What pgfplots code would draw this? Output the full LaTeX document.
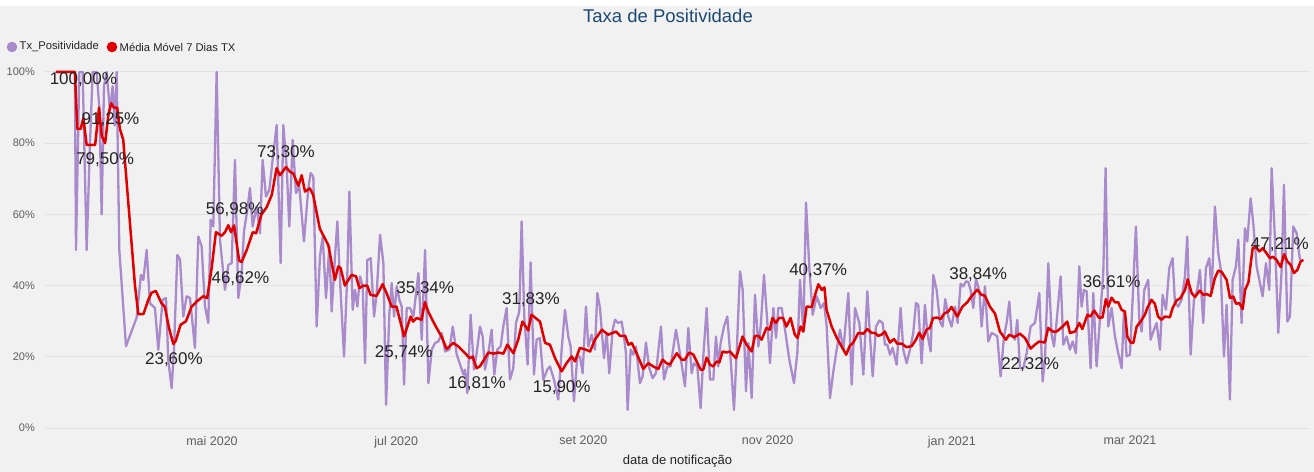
\documentclass[border=0pt]{standalone}
\usepackage{fontspec}
\setmainfont{Liberation Sans}
\usepackage{pgfplots}
\pgfplotsset{compat=1.18}
\definecolor{bgc}{HTML}{F1F1F1}
\definecolor{gridc}{HTML}{E3E3E3}
\definecolor{purp}{HTML}{A98BCB}
\definecolor{mvred}{HTML}{E00000}
\definecolor{titlec}{HTML}{1D4A72}
\definecolor{tickc}{HTML}{605E5C}
\definecolor{labc}{HTML}{252423}

\begin{document}
\begin{tikzpicture}
\fill[bgc] (0bp,0bp) rectangle (1314bp,466bp);
\fill[white] (0bp,466bp) rectangle (1314bp,472bp);
\useasboundingbox (0bp,0bp) rectangle (1314bp,472bp);
\node[text=titlec, font=\fontsize{18.5bp}{22bp}\selectfont] at (668bp,456bp) {Taxa de Positividade};
% legend
\fill[purp] (12bp,425bp) circle (5.3bp);
\node[anchor=west, inner sep=0pt, text=labc, font=\fontsize{11.2bp}{13bp}\selectfont] at (19.5bp,425bp) {Tx\_Positividade};
\fill[mvred] (112bp,425bp) circle (5.3bp);
\node[anchor=west, inner sep=0pt, text=labc, font=\fontsize{11.2bp}{13bp}\selectfont] at (119.5bp,425bp) {Média Móvel 7 Dias TX};

\begin{axis}[
    at={(45bp,44bp)}, anchor=south west,
    scale only axis,
    width=1265bp, height=356bp,
    xmin=65.7, xmax=484.6,
    ymin=0, ymax=100,
    axis line style={draw=none},
    major tick length=0pt,
    xtick={121,182,244,305,366,425},
    xticklabels={mai 2020, jul 2020, set 2020, nov 2020, jan 2021, mar 2021},
    ytick={0,20,40,60,80,100},
    yticklabels={0\%,20\%,40\%,60\%,80\%,100\%},
    ymajorgrids,
    grid style={gridc, line width=1bp},
    yticklabel style={anchor=east, inner sep=0pt, xshift=-10bp, text=tickc, font=\fontsize{11bp}{13bp}\selectfont},
    xticklabel style={anchor=north, inner sep=0pt, yshift=-8bp, text=tickc, font=\fontsize{12.5bp}{14bp}\selectfont},
    xlabel={data de notificação},
    xlabel style={at={(axis description cs:0.5,0)}, anchor=center, yshift=-33bp, text=labc, font=\fontsize{13bp}{15bp}\selectfont},
    clip=false,
]
% Tx_Positividade (daily rate, %)
\addplot[purp, line width=2.3bp, line join=round] coordinates {
(69.3,100) (75.6,100) (75.96,50) (77.06,100) (78.17,100) (79.49,50) (80.6,80) (81.48,100)
(82.8,100) (83.69,90) (84.46,60) (85.23,96) (86.12,100) (87.22,89) (88.1,96) (88.76,85)
(89.43,100) (90.31,50) (92.52,23) (96.05,31) (97.48,43) (98.26,41.6) (99.36,50) (100.46,35)
(102.12,33.7) (103.22,22) (104.66,36) (105.76,36.5) (106.53,19) (107.64,11.2) (108.41,22) (109.51,48.6)
(110.4,47.4) (111.5,31.3) (112.6,37) (113.71,36.5) (115.36,22.5) (116.47,53.8) (117.57,51) (118.68,34.1)
(119.78,29.5) (120.55,58.5) (121.43,56.6) (122.54,100) (123.64,52.9) (125.3,38.8) (126.4,45.8) (127.51,46.3)
(128.61,75.3) (129.71,36.5) (130.82,43.5) (131.59,55.2) (132.69,61.3) (133.58,67.4) (134.46,56.6) (135.78,62.2)
(136.89,54.7) (137.77,75.3) (138.87,65) (139.98,66.9) (141.08,75.3) (142.41,85.1) (143.73,46.3) (144.62,85.1)
(145.72,73.4) (146.6,56.6) (147.71,80.9) (148.81,66) (149.92,67.8) (151.46,52.4) (152.9,67.4) (153.67,71.6)
(154.55,70.6) (155.66,28.5) (156.76,48.2) (157.65,53.8) (158.75,36.5) (159.85,51) (160.63,32.7) (161.73,48.2)
(162.51,58) (163.39,41.6) (164.72,20.1) (165.82,43.5) (166.48,66.4) (167.59,33.2) (168.36,38.8) (169.14,34.1)
(170.02,42.6) (170.9,39.8) (171.68,18.2) (172.45,47.2) (173.56,47.7) (174.66,31.3) (175.54,37.9) (176.65,54.3)
(177.75,46.3) (178.64,6.5) (179.74,32.3) (180.51,40.7) (181.29,31.3) (182.17,39.8) (183.05,36) (183.83,34.1)
(184.6,12.2) (185.48,33.7) (186.59,33.7) (187.69,31.3) (189.35,43.5) (190.45,24.8) (191.56,50) (192.66,12.6)
(193.77,22) (194.87,23.9) (195.97,24.3) (197.08,26.7) (198.18,21.5) (199.62,22) (200.72,28.5) (202.05,20.6)
(203.37,17.3) (204.25,15) (204.77,16.4) (205.54,9.8) (206.64,31.8) (207.75,16.4) (208.63,21) (209.74,28.5)
(210.62,25.7) (211.39,16.4) (212.5,21) (213.6,27.6) (214.48,15) (215.48,22) (216.58,22.9) (217.46,28.5)
(218.56,33.7) (219.67,13.6) (220.77,16.8) (221.66,29.5) (222.76,32.7) (223.53,58) (224.42,31.3) (225.52,17.8)
(226.51,46.5) (227.62,15) (228.5,24.8) (229.6,25.3) (230.71,13.6) (232.03,16.4) (232.92,17.3) (234.24,13.6)
(235.67,8) (236.78,22) (237.88,33.2) (238.98,25.7) (239.76,22.9) (240.86,7.5) (241.97,20.1) (242.85,20.1)
(243.73,15.4) (244.84,34.1) (245.61,22.9) (246.71,26.2) (247.82,22) (248.59,37.9) (249.48,33.7) (250.8,19.6)
(251.68,26.7) (252.56,15.4) (253.67,27.6) (254.44,30.4) (255.54,29.5) (256.64,29.9) (257.42,25.7) (258.08,21)
(258.63,5.1) (259.63,22) (260.51,20.6) (261.39,22.9) (262.71,12.6) (263.6,14.5) (264.7,24) (265.8,16.8)
(266.91,14) (268.01,15.4) (269.67,28.5) (270.66,13.6) (271.77,17.3) (272.87,17.3) (274.64,27.6) (275.96,21)
(277.62,11.7) (278.73,28.1) (279.83,15.4) (280.6,18.2) (281.71,17.3) (282.81,5.6) (283.69,20.1) (284.8,33.7)
(285.9,13.6) (287.01,13.6) (287.89,25.7) (288.66,17.3) (289.44,23.9) (290.54,28.5) (291.64,31.3) (292.75,19.2)
(293.85,5.1) (294.74,21) (295.84,44) (296.73,38.8) (297.83,10.3) (298.6,23.9) (299.71,8.4) (300.81,37.4)
(301.92,22.9) (302.69,28.5) (303.79,43) (304.68,32.3) (305.78,18.2) (306.89,33.7) (307.77,25.3) (308.54,33.7)
(309.65,33.7) (310.75,27.6) (312.18,19.2) (313.73,12.6) (314.83,21) (315.72,41.6) (316.82,27.1) (317.7,63.3)
(318.81,44.9) (319.91,31.8) (321.24,37) (322.56,33.7) (323.66,35.1) (324.55,28.5) (325.65,8.4) (326.75,15.9)
(327.86,22) (328.96,27.6) (330.07,22) (331.72,37.9) (332.83,12.2) (333.93,33.7) (335.36,29.5) (336.69,15)
(338.01,38.4) (338.9,25.7) (339.78,14.5) (340.88,28.5) (341.99,30.2) (343.09,29.5) (343.84,23.4) (344.62,23.4)
(345.5,20.6) (346.38,22.5) (347.71,17.8) (349.03,33.7) (349.91,22) (351.02,18.2) (352.12,22) (353.22,26.7)
(354.11,35.1) (354.88,34.6) (355.98,18.2) (357.09,34.6) (357.86,26.7) (358.97,21.5) (359.85,43) (360.95,38.8)
(362.06,29.9) (362.94,28.5) (363.82,36.2) (364.82,31.3) (365.92,28.5) (367.03,34.1) (367.91,29.5) (368.9,40.5)
(369.79,39.8) (370.67,41.2) (371.44,41) (372.21,38.8) (373.1,33.7) (373.98,41.8) (375.08,38.8) (375.86,28.5)
(376.96,39.8) (378.06,24.3) (379.17,26.7) (380.27,26.2) (381.04,25.7) (382.15,14.5) (383.25,25.7) (384.13,29.5)
(385.02,35.5) (385.79,26.2) (386.89,24.8) (387.67,30.4) (388.55,16.8) (389.65,16.8) (390.76,21) (392.08,28.5)
(393.51,29.5) (394.95,37.9) (396.06,13.1) (396.83,19.2) (397.93,46.3) (399.04,26.2) (399.81,22.9) (400.69,29.9)
(402.02,42.6) (402.9,23.4) (404,25.7) (405.11,22) (405.99,24.3) (407.09,21) (408.2,45.4) (408.97,34.1)
(409.74,38.8) (410.63,38.4) (411.95,16.8) (412.83,37.9) (413.93,17.3) (415.03,30.4) (416.14,43.5) (416.91,73)
(417.79,28.5) (418.9,33.7) (420,25.7) (421.1,21) (422.21,16.8) (422.98,32.7) (423.86,20.1) (424.97,20.6)
(425.85,36) (426.95,56.6) (428.06,30.4) (428.83,27.1) (429.71,38.8) (431.04,41.6) (431.81,24.8) (432.91,27.6)
(433.8,29.5) (434.9,22) (435.78,37.4) (436.89,33.2) (437.99,44.9) (439.09,47.7) (439.87,35.1) (440.97,34.1)
(442.08,36) (443.18,42.6) (443.95,53.8) (445.06,20.6) (446.16,36) (447.26,38.8) (448.15,44.4) (449.25,29.5)
(450.13,44.9) (451.24,47.7) (452.01,37.9) (453.11,62.2) (454.22,49.1) (454.99,44.9) (456.1,20.1) (456.98,34.6)
(458.08,8) (458.97,41.6) (460.07,45.4) (460.84,52.9) (461.95,29.5) (463.05,56.1) (463.82,52.4) (464.93,64.5)
(465.81,57.5) (466.92,45.4) (468.02,40.7) (468.9,37) (470.01,46.3) (471.11,38.8) (471.89,73) (472.99,52.9)
(474.09,26.7) (475.2,44.4) (475.97,68.3) (477.08,29.9) (477.96,31.3) (479.06,56.6) (480.17,54.7) (481.27,47.2)
};
% Media Movel 7 Dias TX (%)
\addplot[mvred, line width=2.5bp, line join=round] coordinates {
(69.3,100) (75.6,100) (76.4,84) (77.5,84) (78.4,87) (79.5,79.5) (82.3,79.5) (83.6,90)
(84.5,82) (85.6,80) (86.7,88) (87.6,91.25) (88.5,90) (89.6,90) (90.5,84) (91.6,81)
(93.6,60) (95.5,40) (96.6,32) (98.3,32) (99.9,36) (101,38) (102.4,38.5) (104.3,35)
(105.4,34) (106.8,28) (108.2,23.6) (109,24.5) (110.6,29) (112.4,30) (114.2,34) (115.9,35.5)
(118.1,37) (119.4,36.5) (120.9,45) (122.3,55) (124.2,54) (125.3,55) (126.4,56.98) (127.3,55)
(128.3,56.9) (130,47) (130.8,46.62) (132.5,50) (134.5,55) (135.6,54.7) (137.4,60) (139.1,62)
(140.8,65.5) (142.4,73) (143.5,71) (145.5,73.3) (146.8,72) (147.9,71.5) (149.6,68) (150.7,71)
(151.8,66.4) (153.4,67.3) (154.5,65.5) (156.7,56) (159.5,51.4) (161.7,41.6) (162.8,45.4) (163.6,44.9)
(165,40) (167.2,43) (168.7,42.6) (169.8,39.3) (171.1,40) (172.4,40) (173.5,37.4) (175.5,37.1)
(177.5,40.4) (178.8,37.9) (180.5,34.1) (182.1,34.1) (184.6,25.74) (186.8,31.3) (187.6,29.9) (188.8,30.9)
(190.4,30.4) (191.5,35.34) (192.6,32.7) (194.8,29) (197,25.7) (198.7,22.2) (200.9,23.9) (202.6,22.9)
(204.8,21) (206.4,19.6) (207.3,20.1) (208.6,16.81) (209.7,17.3) (211.4,19.6) (212.5,21.2) (214.2,20.9)
(215.8,21.2) (217.5,20.9) (218.8,23.4) (220.8,21) (222.4,24.8) (223.8,29.9) (225.7,27.4) (226.8,31.83)
(229.6,29.9) (231.3,23.9) (232.9,23.4) (234.6,19.6) (236.8,15.9) (238.4,18.2) (240.1,20.1) (241.2,18.7)
(242.8,22.5) (244.8,22) (246.2,21.5) (247.8,24.8) (250.1,27.6) (252.2,26.2) (254.8,27.1) (256.1,25.9)
(257.8,25.9) (258.9,23.4) (260,23.9) (261.6,21) (263.8,16.6) (265.5,18.2) (267.1,17.3) (268.8,16.6)
(270.2,19.2) (271.5,18.2) (272.6,17.8) (274.9,21) (276.5,19.2) (277.6,19.2) (279,21.2) (280.4,20.6)
(281.5,18.7) (282.8,16.4) (283.7,16.4) (284.8,19.8) (285.9,17.8) (287,17.3) (288.1,18.7) (289,18.4)
(290.1,21.5) (291.4,21.2) (292.5,21.5) (294.5,19.6) (296.7,25.7) (298,23.4) (299.7,21.5) (300.8,25.9)
(301.9,25.9) (303,24.8) (304.6,28.1) (305.7,27.6) (306.6,30.9) (307.7,29.5) (308.8,30.9) (310.1,30.9)
(311.2,28.5) (312.6,30.9) (314,26.2) (314.9,25.3) (315.9,28.5) (316.8,27.1) (317.9,34.1) (319.6,34)
(320.7,37.4) (321.8,40.37) (322.9,38.8) (323.8,39.5) (324.5,33.2) (326.2,28.5) (327.9,25.3) (329.5,22.9)
(331,20.6) (332.2,23.1) (333.3,23.9) (335,26.7) (336.7,26.5) (338,27.8) (339.4,26.7) (340.5,26.7)
(341.6,25.9) (342.7,26.2) (343.8,27.1) (345.5,24) (346.8,25) (347.9,23.7) (349.4,23.7) (351,22.7)
(352.7,23) (354.1,24.8) (355.2,26.8) (356.3,25) (357.6,27.6) (358.7,28.1) (359.8,30.9) (361.2,31)
(362.3,30.6) (363.4,32.1) (364.8,32.7) (365.9,34) (367.8,31.3) (369.5,34.1) (371.1,35.3) (372.5,37)
(374.4,38.84) (375.8,37.4) (376.9,37.2) (378.6,34.1) (380.3,32.1) (381.9,27.1) (383.9,24.8) (385,26.2)
(386.7,25.5) (388.5,26.5) (390.2,25.3) (392.1,22.32) (393.5,23.4) (394.9,24.3) (396.8,24) (397.9,28.1)
(399.4,27.1) (400.7,27.1) (402.7,28.5) (404.2,29.9) (405.1,26.7) (406.8,27.1) (408.2,29.5) (409.2,27.8)
(410.9,31.8) (411.9,31.3) (413.1,33) (414.8,30.9) (415.9,31.1) (417,36.2) (417.8,34.1) (418.9,36.61)
(420,35.3) (421.1,35.3) (422.2,33.2) (423.3,32.7) (424.1,25.7) (425.2,24) (426.1,23.9) (427.2,28.5)
(428.5,29.9) (429.9,31.8) (430.7,33.7) (432.1,36) (433.2,34.9) (434.3,31.3) (435.4,30.4) (436.5,31.3)
(438.2,31.1) (439.1,33.7) (440.4,35.8) (441.7,36.5) (443.2,38.8) (444.1,41.8) (445.4,37.9) (446.5,36.8)
(448.1,38.6) (449.3,37.4) (450.4,37.6) (451.7,37.1) (453.1,42.1) (454.2,44.2) (455.3,43.9) (457,41.6)
(458.1,36.5) (459.2,36.9) (460.1,34.9) (461.2,35.1) (462.3,33.4) (463.1,38.8) (464.2,40.9) (465.6,50.5)
(466.7,50.8) (467.8,49.6) (468.9,50.5) (470.2,49.1) (471.3,47.7) (472.4,48.1) (473.5,47.2) (474.9,45.2)
(476,48.8) (477.1,46.8) (478.2,45.8) (479.3,43.5) (480.4,44.4) (481.5,46.8) (482.4,47.21)
};
% data labels
\begin{scope}[every node/.style={text=labc, inner sep=0pt, font=\fontsize{17bp}{20bp}\selectfont}]
\node at (axis cs:78.4,97.9) {100,00\%};
\node at (axis cs:87.4,86.7) {91,25\%};
\node at (axis cs:85.6,75.3) {79,50\%};
\node at (axis cs:108.4,19.1) {23,60\%};
\node at (axis cs:128.5,61.2) {56,98\%};
\node at (axis cs:130.4,42.05) {46,62\%};
\node at (axis cs:145.5,77.3) {73,30\%};
\node at (axis cs:191.6,39.2) {35,34\%};
\node at (axis cs:184.5,21.2) {25,74\%};
\node at (axis cs:208.7,12.4) {16,81\%};
\node at (axis cs:226.6,36) {31,83\%};
\node at (axis cs:236.8,11.4) {15,90\%};
\node at (axis cs:321.7,44.2) {40,37\%};
\node at (axis cs:374.7,43) {38,84\%};
\node at (axis cs:391.9,17.7) {22,32\%};
\node at (axis cs:418.9,40.8) {36,61\%};
\node at (axis cs:474.6,51.4) {47,21\%};
\end{scope}
\end{axis}
\end{tikzpicture}
\end{document}
